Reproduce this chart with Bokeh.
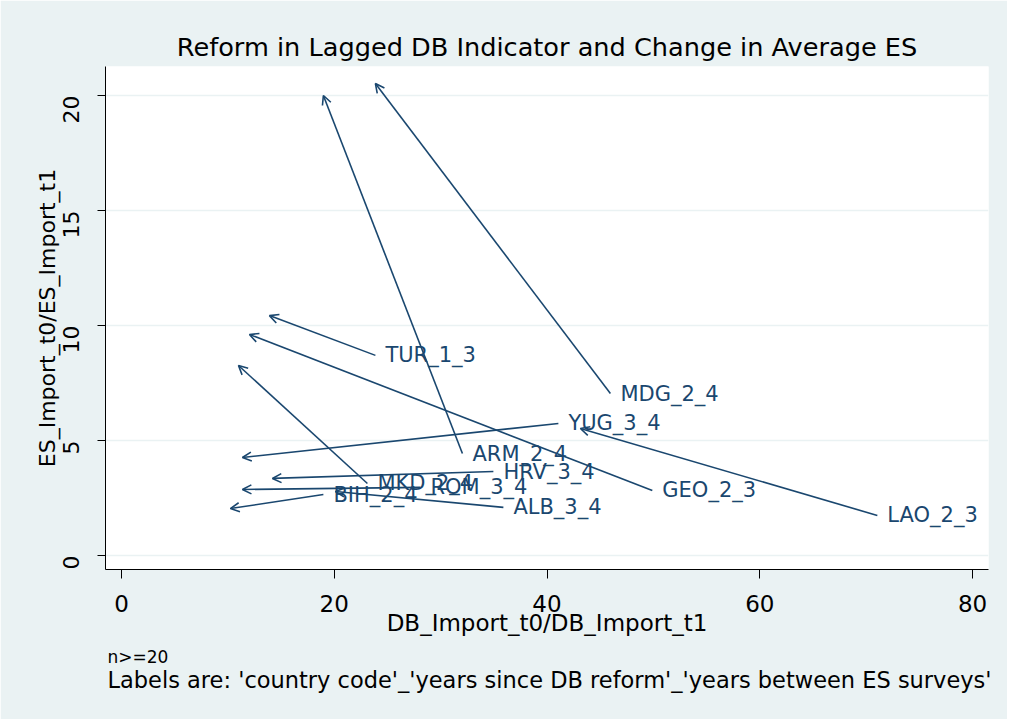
import math
from bokeh.plotting import figure
from bokeh.models import (ColumnDataSource, Arrow, OpenHead, FixedTicker, Range1d, Title)
from bokeh.core.properties import value
from bokeh.embed import file_html
from bokeh.resources import INLINE

# ---- data ----
labels = ["MDG_2_4", "ARM_2_4", "TUR_1_3", "GEO_2_3", "LAO_2_3", "MKD_2_4",
          "YUG_3_4", "HRV_3_4", "ROM_3_4", "BIH_2_4", "ALB_3_4"]
db_t0 = [45.96, 32.05, 23.87, 49.90, 71.05, 23.12, 41.07, 34.96, 28.10, 18.98, 35.90]
es_t0 = [7.04, 4.43, 8.70, 2.83, 1.74, 3.13, 5.74, 3.65, 2.96, 2.65, 2.09]
db_t1 = [23.87, 18.98, 13.91, 12.03, 43.14, 11.00, 11.37, 14.19, 11.37, 10.24, 20.11]
es_t1 = [20.52, 20.00, 10.43, 9.61, 5.52, 8.26, 4.26, 3.35, 2.87, 2.04, 2.78]
x_ticks = [0, 20, 40, 60, 80]
y_ticks = [0, 5, 10, 15, 20]

NAVY = "#1A476F"
BG = "#EAF2F3"
FONT = "DejaVu Sans"

src = ColumnDataSource(dict(x0=db_t0, y0=es_t0, x1=db_t1, y1=es_t1, lab=labels))

p = figure(width=1007, height=719, output_backend="svg", toolbar_location=None,
           x_range=Range1d(-1.5, 81.5), y_range=Range1d(-0.61, 21.26),
           min_border_left=105, min_border_right=19, min_border_top=66,
           min_border_bottom=150)

p.background_fill_color = "white"
p.border_fill_color = BG
p.outline_line_color = None

p.title.text = "Reform in Lagged DB Indicator and Change in Average ES"
p.title.align = "center"
p.title.text_font = FONT
p.title.text_font_size = "25.6px"
p.title.text_font_style = "normal"
p.title.text_color = "#000000"
p.title.standoff = 10

# grid
p.xgrid.grid_line_color = None
p.ygrid.grid_line_color = BG
p.ygrid.grid_line_width = 1.5
p.ygrid.ticker = FixedTicker(ticks=y_ticks)

# x axis
xa = p.xaxis[0]
xa.ticker = FixedTicker(ticks=x_ticks)
xa.axis_label = "DB_Import_t0/DB_Import_t1"
xa.axis_label_text_font = FONT
xa.axis_label_text_font_size = "23px"
xa.axis_label_text_font_style = "normal"
xa.axis_label_text_color = "#000000"
xa.axis_label_standoff = -5
xa.major_label_text_font = FONT
xa.major_label_text_font_size = "23px"
xa.major_label_text_color = "#000000"
xa.major_label_standoff = 16
xa.major_tick_out = 9
xa.major_tick_in = 0
xa.minor_tick_out = 0
xa.minor_tick_in = 0
xa.axis_line_color = "#000000"
xa.major_tick_line_color = "#000000"

# y axis
ya = p.yaxis[0]
ya.ticker = FixedTicker(ticks=y_ticks)
ya.axis_label = "ES_Import_t0/ES_Import_t1"
ya.axis_label_text_font = FONT
ya.axis_label_text_font_size = "22px"
ya.axis_label_text_font_style = "normal"
ya.axis_label_text_color = "#000000"
ya.axis_label_standoff = -7
ya.major_label_text_font = FONT
ya.major_label_text_font_size = "22px"
ya.major_label_text_color = "#000000"
ya.major_label_orientation = math.pi / 2
ya.major_label_standoff = 26
ya.major_tick_out = 8
ya.major_tick_in = 0
ya.minor_tick_out = 0
ya.minor_tick_in = 0
ya.axis_line_color = "#000000"
ya.major_tick_line_color = "#000000"

# arrows
arrows = Arrow(end=OpenHead(size=9, line_color=NAVY, line_width=1.6),
               x_start="x0", y_start="y0", x_end="x1", y_end="y1",
               source=src, line_color=NAVY, line_width=1.6)
p.add_layout(arrows)

# labels at arrow starts
p.text(x="x0", y="y0", text="lab", source=src, x_offset=10,
       text_baseline="middle", text_align="left",
       text_font=value(FONT), text_font_size="21px", text_color=NAVY)

# notes below
n1 = Title(text="n>=20", align="left", text_font=FONT, text_font_size="17px",
           text_font_style="normal", text_color="#000000", standoff=13, offset=2)
n2 = Title(text="Labels are: 'country code'_'years since DB reform'_'years between ES surveys'",
           align="left", text_font=FONT, text_font_size="22.5px",
           text_font_style="normal", text_color="#000000", standoff=-18, offset=2)
p.add_layout(n1, "below")
p.add_layout(n2, "below")

open("out.html", "w").write(file_html(p, INLINE))
